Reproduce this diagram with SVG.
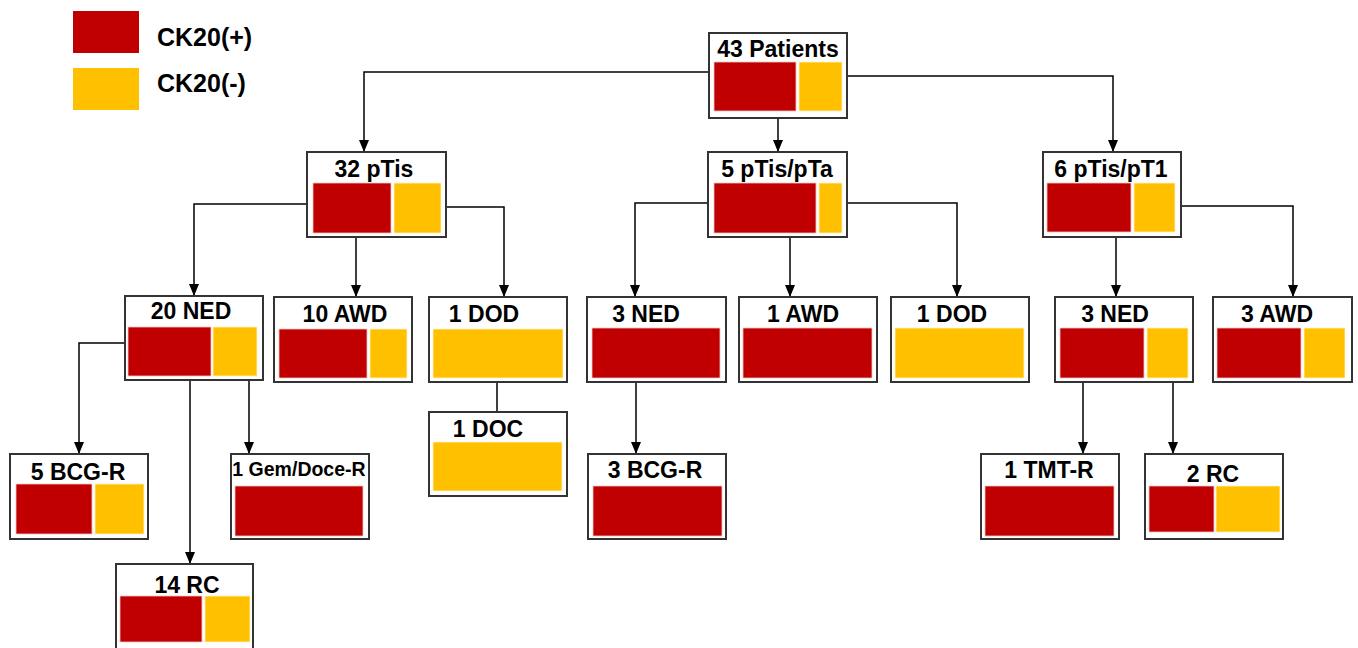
<svg xmlns="http://www.w3.org/2000/svg" width="1358" height="648" viewBox="0 0 1358 648">
<defs>
<style>
.box{fill:#fff;stroke:#333;stroke-width:2}
.pos{fill:#C00000;stroke:#f2c6c6;stroke-width:0.8}
.neg{fill:#FFC000;stroke:#fff2c8;stroke-width:0.8}
.t{font-family:"Liberation Sans",Arial,sans-serif;font-weight:bold;font-size:23px;fill:#000;text-anchor:middle}
.ts{font-size:19.5px}
.lg{font-family:"Liberation Sans",Arial,sans-serif;font-weight:bold;font-size:25px;fill:#000}
.c{fill:none;stroke:#000;stroke-width:1.5}
</style>
<marker id="ah" markerUnits="userSpaceOnUse" markerWidth="12" markerHeight="12" viewBox="0 0 12 12" refX="12" refY="6" orient="auto">
<path d="M0,1 L12,6 L0,11 Z" fill="#000"/>
</marker>
</defs>
<rect width="1358" height="648" fill="#fff"/>

<g id="legend">
<rect x="73" y="11" width="66" height="42" fill="#C00000"/>
<rect x="73" y="68" width="66" height="42" fill="#FFC000"/>
<text class="lg" x="157" y="46">CK20(+)</text>
<text class="lg" x="157" y="92">CK20(-)</text>
</g>

<g id="connectors">
<path class="c" d="M709,72 H364 V152" marker-end="url(#ah)"/>
<path class="c" d="M778,118 V152" marker-end="url(#ah)"/>
<path class="c" d="M847,76 H1113 V152" marker-end="url(#ah)"/>
<path class="c" d="M307,204 H194 V296" marker-end="url(#ah)"/>
<path class="c" d="M356,237 V297" marker-end="url(#ah)"/>
<path class="c" d="M446,207 H504 V297" marker-end="url(#ah)"/>
<path class="c" d="M708,203 H635 V297" marker-end="url(#ah)"/>
<path class="c" d="M790,237 V297" marker-end="url(#ah)"/>
<path class="c" d="M847,203 H957 V297" marker-end="url(#ah)"/>
<path class="c" d="M1116,237 V297" marker-end="url(#ah)"/>
<path class="c" d="M1181,206 H1293 V297" marker-end="url(#ah)"/>
<path class="c" d="M125,343 H79 V454" marker-end="url(#ah)"/>
<path class="c" d="M190,380 V564" marker-end="url(#ah)"/>
<path class="c" d="M249,380 V454" marker-end="url(#ah)"/>
<path class="c" d="M497,382 V412"/>
<path class="c" d="M636,382 V454" marker-end="url(#ah)"/>
<path class="c" d="M1083,382 V454" marker-end="url(#ah)"/>
<path class="c" d="M1173,382 V454" marker-end="url(#ah)"/>
</g>

<g id="n-43-patients">
<rect class="box" x="709" y="33" width="138" height="85"/>
<text class="t" x="778" y="57">43 Patients</text>
<rect class="pos" x="714" y="62" width="82" height="49"/>
<rect class="neg" x="799" y="62" width="43" height="49"/>
</g>

<g id="n-32-ptis">
<rect class="box" x="307" y="152" width="139" height="85"/>
<text class="t" x="374" y="177">32 pTis</text>
<rect class="pos" x="313" y="183" width="78" height="50"/>
<rect class="neg" x="394" y="183" width="47" height="50"/>
</g>

<g id="n-5-ptis-pta">
<rect class="box" x="708" y="152" width="139" height="85"/>
<text class="t" x="777" y="177">5 pTis/pTa</text>
<rect class="pos" x="714" y="183" width="102" height="50"/>
<rect class="neg" x="819" y="183" width="23" height="50"/>
</g>

<g id="n-6-ptis-pt1">
<rect class="box" x="1043" y="152" width="138" height="85"/>
<text class="t" x="1111" y="177">6 pTis/pT1</text>
<rect class="pos" x="1047" y="183" width="84" height="49"/>
<rect class="neg" x="1134" y="183" width="41" height="49"/>
</g>

<g id="n-20-ned">
<rect class="box" x="125" y="296" width="138" height="84"/>
<text class="t" x="191" y="319">20 NED</text>
<rect class="pos" x="128" y="327" width="83" height="49"/>
<rect class="neg" x="213" y="327" width="44" height="49"/>
</g>

<g id="n-10-awd">
<rect class="box" x="274" y="297" width="138" height="85"/>
<text class="t" x="345" y="322">10 AWD</text>
<rect class="pos" x="279" y="329" width="88" height="49"/>
<rect class="neg" x="370" y="329" width="37" height="49"/>
</g>

<g id="n-1-dod-a">
<rect class="box" x="429" y="297" width="138" height="85"/>
<text class="t" x="484" y="322">1 DOD</text>
<rect class="neg" x="433" y="329" width="130" height="49"/>
</g>

<g id="n-3-ned-a">
<rect class="box" x="587" y="297" width="139" height="85"/>
<text class="t" x="646" y="322">3 NED</text>
<rect class="pos" x="592" y="328" width="128" height="50"/>
</g>

<g id="n-1-awd">
<rect class="box" x="739" y="297" width="138" height="85"/>
<text class="t" x="803" y="322">1 AWD</text>
<rect class="pos" x="743" y="328" width="129" height="50"/>
</g>

<g id="n-1-dod-b">
<rect class="box" x="891" y="297" width="138" height="85"/>
<text class="t" x="952" y="322">1 DOD</text>
<rect class="neg" x="895" y="328" width="129" height="50"/>
</g>

<g id="n-3-ned-b">
<rect class="box" x="1055" y="297" width="138" height="85"/>
<text class="t" x="1115" y="322">3 NED</text>
<rect class="pos" x="1060" y="328" width="84" height="50"/>
<rect class="neg" x="1147" y="328" width="41" height="50"/>
</g>

<g id="n-3-awd">
<rect class="box" x="1213" y="297" width="139" height="85"/>
<text class="t" x="1277" y="322">3 AWD</text>
<rect class="pos" x="1217" y="328" width="84" height="50"/>
<rect class="neg" x="1304" y="328" width="41" height="50"/>
</g>

<g id="n-1-doc">
<rect class="box" x="429" y="412" width="138" height="84"/>
<text class="t" x="488" y="437">1 DOC</text>
<rect class="neg" x="433" y="442" width="129" height="49"/>
</g>

<g id="n-5-bcg-r">
<rect class="box" x="10" y="454" width="138" height="85"/>
<text class="t" x="78" y="480">5 BCG-R</text>
<rect class="pos" x="16" y="484" width="76" height="50"/>
<rect class="neg" x="95" y="484" width="49" height="50"/>
</g>

<g id="n-1-gem-doce-r">
<rect class="box" x="231" y="454" width="138" height="85"/>
<text class="t ts" x="299" y="476">1 Gem/Doce-R</text>
<rect class="pos" x="235" y="486" width="128" height="50"/>
</g>

<g id="n-14-rc">
<rect class="box" x="116" y="564" width="137" height="90"/>
<text class="t" x="187" y="593">14 RC</text>
<rect class="pos" x="120" y="596" width="82" height="46"/>
<rect class="neg" x="205" y="596" width="45" height="46"/>
</g>

<g id="n-3-bcg-r">
<rect class="box" x="588" y="454" width="138" height="85"/>
<text class="t" x="655" y="478">3 BCG-R</text>
<rect class="pos" x="593" y="486" width="129" height="50"/>
</g>

<g id="n-1-tmt-r">
<rect class="box" x="981" y="454" width="138" height="85"/>
<text class="t" x="1049" y="478">1 TMT-R</text>
<rect class="pos" x="985" y="486" width="129" height="50"/>
</g>

<g id="n-2-rc">
<rect class="box" x="1145" y="454" width="138" height="85"/>
<text class="t" x="1213" y="482">2 RC</text>
<rect class="pos" x="1149" y="486" width="65" height="46"/>
<rect class="neg" x="1216" y="486" width="64" height="46"/>
</g>
</svg>
